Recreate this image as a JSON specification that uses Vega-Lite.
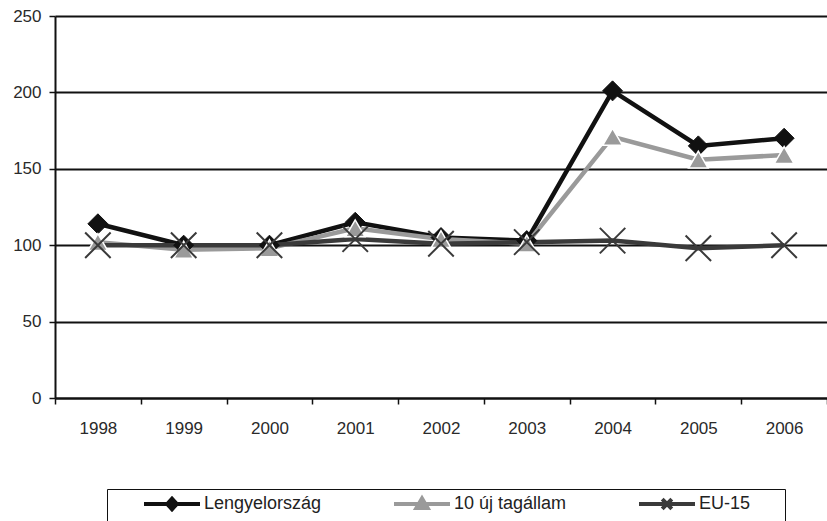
{
  "$schema": "https://vega.github.io/schema/vega-lite/v6.json",
  "autosize": {"type": "none"},
  "width": 772,
  "height": 382,
  "padding": {"left": 55, "top": 16, "right": 0, "bottom": 123},
  "background": "white",
  "config": {
    "view": {"stroke": null},
    "font": "Liberation Sans",
    "axis": {"labelFont": "Liberation Sans", "labelFontSize": 17, "labelColor": "#2a2a2a"}
  },
  "data": {
    "values": [
      {"year": "1998", "series": "Lengyelország", "value": 114},
      {"year": "1999", "series": "Lengyelország", "value": 100},
      {"year": "2000", "series": "Lengyelország", "value": 100},
      {"year": "2001", "series": "Lengyelország", "value": 115},
      {"year": "2002", "series": "Lengyelország", "value": 105},
      {"year": "2003", "series": "Lengyelország", "value": 103},
      {"year": "2004", "series": "Lengyelország", "value": 201},
      {"year": "2005", "series": "Lengyelország", "value": 165},
      {"year": "2006", "series": "Lengyelország", "value": 170},
      {"year": "1998", "series": "10 új tagállam", "value": 102},
      {"year": "1999", "series": "10 új tagállam", "value": 97},
      {"year": "2000", "series": "10 új tagállam", "value": 98},
      {"year": "2001", "series": "10 új tagállam", "value": 111},
      {"year": "2002", "series": "10 új tagállam", "value": 104},
      {"year": "2003", "series": "10 új tagállam", "value": 101},
      {"year": "2004", "series": "10 új tagállam", "value": 171},
      {"year": "2005", "series": "10 új tagállam", "value": 156},
      {"year": "2006", "series": "10 új tagállam", "value": 159},
      {"year": "1998", "series": "EU-15", "value": 100},
      {"year": "1999", "series": "EU-15", "value": 100},
      {"year": "2000", "series": "EU-15", "value": 100},
      {"year": "2001", "series": "EU-15", "value": 104},
      {"year": "2002", "series": "EU-15", "value": 101},
      {"year": "2003", "series": "EU-15", "value": 102},
      {"year": "2004", "series": "EU-15", "value": 103},
      {"year": "2005", "series": "EU-15", "value": 98},
      {"year": "2006", "series": "EU-15", "value": 100}
    ]
  },
  "encoding": {
    "x": {
      "field": "year", "type": "nominal", "bandPosition": 0.5,
      "scale": {"type": "band", "paddingInner": 0, "paddingOuter": 0},
      "axis": {"title": null, "labelAngle": 0, "tickBand": "extent", "domainColor": "#111", "domainWidth": 2, "tickColor": "#111", "tickWidth": 1.5, "tickSize": 6, "labelPadding": 16, "grid": false}
    },
    "y": {
      "field": "value", "type": "quantitative",
      "scale": {"domain": [0, 250], "nice": false, "zero": true},
      "axis": {"title": null, "values": [0, 50, 100, 150, 200, 250], "grid": true, "gridColor": "#111", "gridWidth": 1.8, "gridOpacity": 1, "domainColor": "#111", "domainWidth": 2, "tickColor": "#111", "tickWidth": 1.5, "tickSize": 6, "labelPadding": 8}
    }
  },
  "layer": [
    {
      "mark": {"type": "line", "strokeWidth": 4.5, "strokeJoin": "miter"},
      "encoding": {
        "color": {
          "field": "series", "type": "nominal",
          "sort": ["Lengyelország", "10 új tagállam", "EU-15"],
          "scale": {"domain": ["Lengyelország", "10 új tagállam", "EU-15"], "range": ["#111111", "#9a9a9a", "#3a3a3a"]},
          "legend": {
            "title": "\u00a0",
            "titleOrient": "right",
            "titlePadding": 30,
            "titleFontSize": 11,
            "orient": "none",
            "direction": "horizontal",
            "legendX": 52,
            "legendY": 473,
            "strokeColor": "#111",
            "fillColor": "white",
            "padding": 5,
            "symbolOffset": 50,
            "columnPadding": 40,
            "gridAlign": "none",
            "symbolSize": 256,
            "symbolStrokeWidth": 4,
            "labelFont": "Liberation Sans",
            "labelFontSize": 18,
            "labelColor": "#222",
            "labelOffset": 22,
            "encode": {
              "symbols": {
                "update": {
                  "shape": {"signal": "datum.value === 'Lengyelország' ? 'M-3.5,0H3.5M-0.6,0L0,-0.65L0.6,0L0,0.65Z' : datum.value === '10 új tagállam' ? 'M-3.5,0H3.5M-0.7,0.5L0,-0.7L0.7,0.5Z' : 'M-3.5,0H3.5M-0.6,-0.6L0.6,0.6M-0.6,0.6L0.6,-0.6'"},
                  "fill": {"scale": "color", "field": "value"},
                  "stroke": {"scale": "color", "field": "value"},
                  "strokeWidth": {"value": 4},
                  "fillOpacity": {"value": 1},
                  "opacity": {"value": 1}
                }
              }
            }
          }
        }
      }
    },
    {
      "mark": {"type": "point", "filled": true, "opacity": 1},
      "encoding": {
        "shape": {
          "condition": [
            {"test": "datum.series === 'Lengyelország'", "value": "diamond"},
            {"test": "datum.series === '10 új tagállam'", "value": "triangle-up"}
          ],
          "value": "M-1,-1L1,1M-1,1L1,-1"
        },
        "fill": {
          "condition": [
            {"test": "datum.series === 'Lengyelország'", "value": "#111111"},
            {"test": "datum.series === '10 új tagállam'", "value": "#9a9a9a"}
          ],
          "value": "#3a3a3a"
        },
        "stroke": {
          "condition": [
            {"test": "datum.series === 'Lengyelország'", "value": "#111111"},
            {"test": "datum.series === '10 új tagállam'", "value": "#ffffff"}
          ],
          "value": "#3a3a3a"
        },
        "size": {
          "condition": [
            {"test": "datum.series === 'Lengyelország'", "value": 400},
            {"test": "datum.series === '10 új tagállam'", "value": 380}
          ],
          "value": 650
        },
        "strokeWidth": {
          "condition": [
            {"test": "datum.series === 'Lengyelország'", "value": 1},
            {"test": "datum.series === '10 új tagállam'", "value": 1.5}
          ],
          "value": 2
        }
      }
    }
  ]
}
